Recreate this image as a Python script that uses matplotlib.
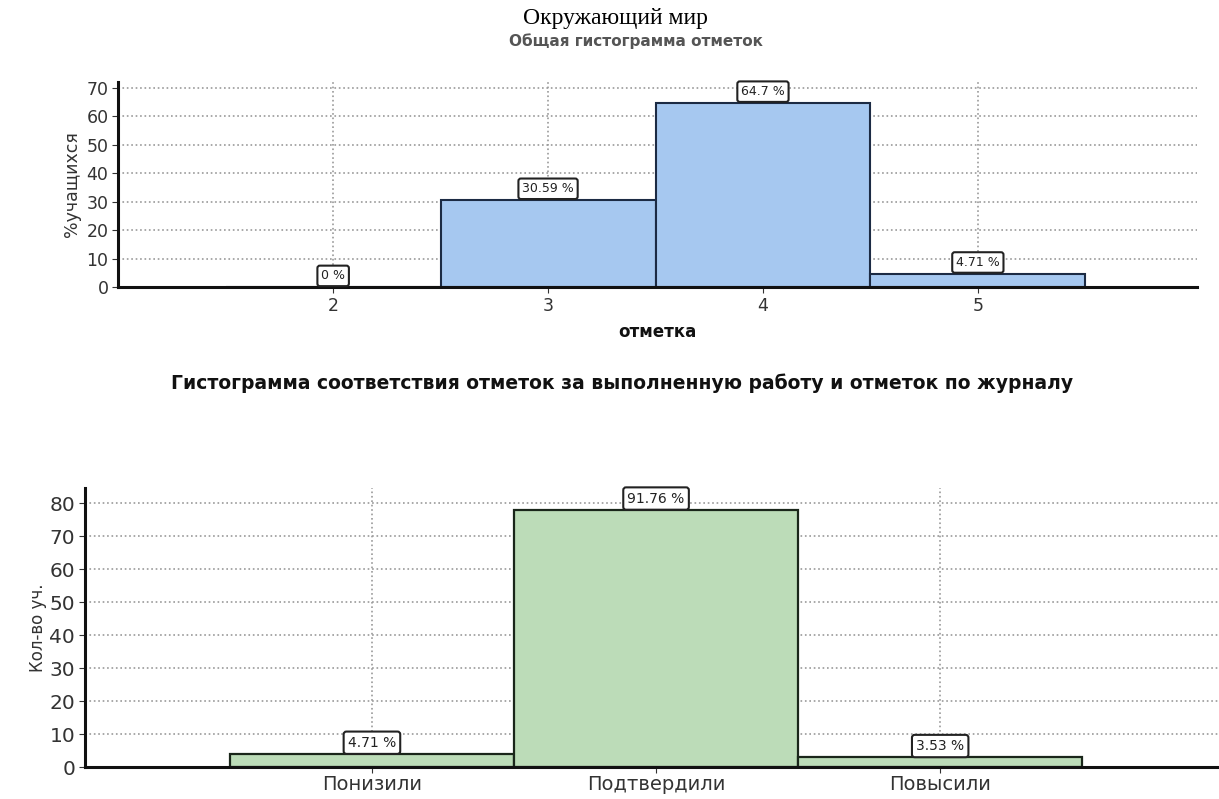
import matplotlib.pyplot as plt
import numpy as np

plt.rcParams['font.family'] = ['DejaVu Sans']

# top chart: distribution of marks
marks = ['2', '3', '4', '5']
mark_pct = [0, 30.59, 64.7, 4.71]

# bottom chart: work marks vs journal marks
groups = ['Понизили', 'Подтвердили', 'Повысили']
group_count = [4, 78, 3]
group_pct = [4.71, 91.76, 3.53]

fig = plt.figure(figsize=(12.19, 7.99), dpi=100)

fig.text(0.505, 0.977, 'Окружающий мир', ha='center', va='center',
         family=['Liberation Serif', 'DejaVu Serif'], fontsize=17)
fig.text(0.522, 0.948, 'Общая гистограмма отметок', ha='center', va='center',
         fontsize=11, fontweight='bold', color='#555555')
fig.text(0.51, 0.52,
         'Гистограмма соответствия отметок за выполненную работу и отметок по журналу',
         ha='center', va='center', fontsize=13.5, fontweight='bold', color='#111111')


def style_axes(ax, size):
    for s in ['top', 'right']:
        ax.spines[s].set_visible(False)
    for s in ['left', 'bottom']:
        ax.spines[s].set_linewidth(2.2)
        ax.spines[s].set_color('#111111')
    ax.grid(True, linestyle=':', color='#9a9a9a', linewidth=1.2)
    ax.set_axisbelow(True)
    ax.tick_params(labelsize=size, colors='#333333', length=4, pad=3)


def label_box(ax, x, y, txt, size):
    ax.annotate(txt, (x, y), xytext=(0, 8), textcoords='offset points',
                ha='center', va='center', fontsize=size, color='#222222',
                bbox=dict(boxstyle='round,pad=0.3,rounding_size=0.2', fc='white',
                          ec='#222222', lw=1.5))


# top
ax1 = fig.add_axes([0.097, 0.6408, 0.885, 0.2566])
x1 = np.arange(2, 2 + len(marks))
ax1.bar(x1, mark_pct, width=1.0, color='#a6c8f0', edgecolor='#1c2b44', linewidth=1.5)
ax1.set_xlim(1.0, 6.02)
ax1.set_ylim(0, 72)
ax1.set_xticks(x1)
ax1.set_xticklabels(marks)
ax1.set_yticks(range(0, 71, 10))
style_axes(ax1, 12.5)
ax1.set_ylabel('%учащихся', fontsize=12.5, color='#333333', labelpad=4)
ax1.set_xlabel('отметка', fontsize=12, fontweight='bold', color='#111111', labelpad=6)
for xi, v in zip(x1, mark_pct):
    label_box(ax1, xi, v, f'{v:g} %', 9)

# bottom
ax2 = fig.add_axes([0.0697, 0.04, 0.93, 0.349])
x2 = np.arange(len(groups))
ax2.bar(x2, group_count, width=1.0, color='#bcdcb8', edgecolor='#1a261a', linewidth=1.6)
ax2.set_xlim(-1.01, 2.98)
ax2.set_ylim(0, 84.5)
ax2.set_xticks(x2)
ax2.set_xticklabels(groups)
ax2.set_yticks(range(0, 81, 10))
style_axes(ax2, 14.5)
ax2.tick_params(axis='x', labelsize=14, pad=2)
ax2.set_ylabel('Кол-во уч.', fontsize=12, color='#333333', labelpad=2)
for xi, v, p in zip(x2, group_count, group_pct):
    label_box(ax2, xi, v, f'{p:g} %', 10)

fig.savefig('out.png', dpi=100)
